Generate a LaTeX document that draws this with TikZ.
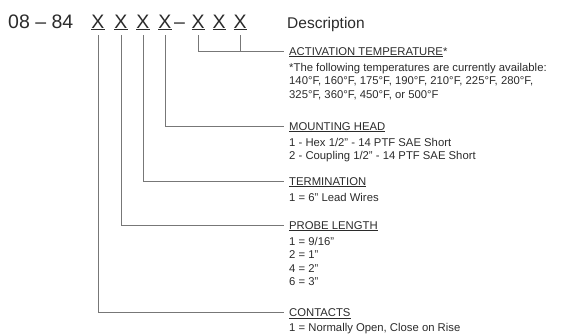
\documentclass[tikz,border=0pt]{standalone}
\usepackage{fontspec}
\setmainfont{Liberation Sans}
\usetikzlibrary{positioning}
\definecolor{ink}{HTML}{2B2B2B}
\definecolor{leader}{HTML}{777777}
\newcommand{\undl}[2][0.7pt]{\setbox0\hbox{#2}\rlap{\rule[-2pt]{\wd0}{#1}}\box0}
\tikzset{
  codepart/.style={
    font=\fontsize{19.5}{20}\selectfont, text=ink,
    inner sep=0pt, outer ysep=5pt, anchor=base
  },
  fieldtitle/.style={
    font=\fontsize{11.3}{13}\selectfont, text=ink, inner sep=0pt,
    text height=8pt, text depth=0pt, anchor=west
  },
  fieldbody/.style={
    font=\fontsize{11.3}{13.5}\selectfont, text=ink,
    inner sep=0pt, align=left
  },
  leaderline/.style={
    draw=leader, line width=1pt, shorten >=5pt
  },
}

\begin{document}
\begin{tikzpicture}[x=1pt,y=-1pt]
  \useasboundingbox (0,0) rectangle (564,333);

  % Part number
  \node[codepart, anchor=base west] (prefix) at (8,28) {08 – 84};
  \foreach \i/\xx in {1/98,2/121,3/143,4/165,5/198,6/219,7/240} {
    \node[codepart] (x\i) at (\xx,28) {\undl[1pt]{X}};
  }
  \node[codepart] (dash) at (179.5,28) {–};
  \node[codepart, font=\fontsize{15.5}{16}\selectfont, anchor=base west] (desc) at (287,28) {Description};

  % Field titles
  \node[fieldtitle] (actT) at (289,51) {\undl{ACTIVATION TEMPERATURE}*};
  \node[fieldtitle] (mountT) at (289,126) {\undl{MOUNTING HEAD}};
  \node[fieldtitle] (termT) at (289,181) {\undl{TERMINATION}};
  \node[fieldtitle] (probeT) at (289,225) {\undl{PROBE LENGTH}};
  \node[fieldtitle] (contT) at (289,312.5) {\undl{CONTACTS}};

  % Field options
  \node[fieldbody, below=7.5pt of actT.south west, anchor=north west] (actB)
    {*The following temperatures are currently available:\\
     140°F, 160°F, 175°F, 190°F, 210°F, 225°F, 280°F,\\
     325°F, 360°F, 450°F, or 500°F};
  \node[fieldbody, below=7.5pt of mountT.south west, anchor=north west] (mountB)
    {1 - Hex 1/2" - 14 PTF SAE Short\\2 - Coupling 1/2" - 14 PTF SAE Short};
  \node[fieldbody, below=7.5pt of termT.south west, anchor=north west] (termB)
    {1 = 6" Lead Wires};
  \node[fieldbody, below=7.5pt of probeT.south west, anchor=north west] (probeB)
    {1 = 9/16"\\2 = 1"\\4 = 2"\\6 = 3"};
  \node[fieldbody, below=6pt of contT.south west, anchor=north west] (contB)
    {1 = Normally Open, Close on Rise};

  % Leaders
  \draw[leaderline] (x5.south) |- (actT.west);
  \draw[leaderline, shorten >=0pt] (x7.south) -- (x7.south |- actT.west);
  \draw[leaderline] (x4.south) |- (mountT.west);
  \draw[leaderline] (x3.south) |- (termT.west);
  \draw[leaderline] (x2.south) |- (probeT.west);
  \draw[leaderline] (x1.south) |- (contT.west);
\end{tikzpicture}
\end{document}
